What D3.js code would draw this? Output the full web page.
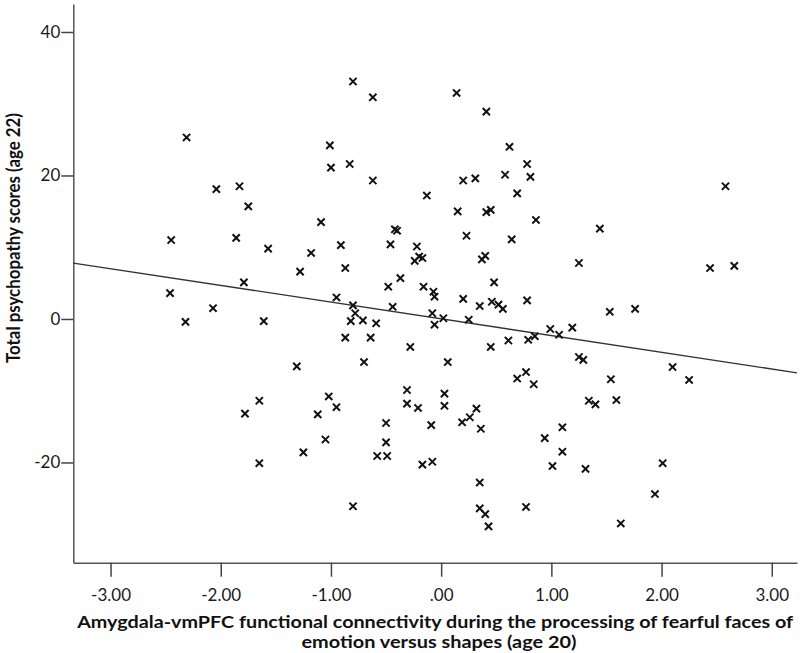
<!DOCTYPE html>
<html>
<head>
<meta charset="utf-8">
<script src="https://cdn.jsdelivr.net/npm/d3@7"></script>
<style>
body { margin: 0; background: #fff; }
</style>
</head>
<body>
<div id="container"></div>
<script>
"use strict";

// amygdala-vmPFC connectivity (age 20), one value per participant
var connectivity = [
    -2.31, -2.04, -1.83, -1.75, -2.45, -1.86, -1.57, -1.18, -1.28, -1.79,
    -2.46, -0.80, -0.62, 0.14, 0.41, -1.01, -1.00, -0.83, -0.62, 0.62,
    0.78, 0.20, 0.31, 0.58, 0.81, 0.69, -0.13, 0.15, 0.41, 0.45,
    0.86, -1.09, -0.42, -0.40, -0.91, -0.46, -0.22, -0.24, -0.20, -0.17,
    0.23, 0.64, 0.37, 0.40, -0.87, -0.37, -0.48, -0.16, -0.07, -0.06,
    0.48, 2.58, 1.44, 1.25, 2.44, 2.66, -2.32, -2.07, -1.61, -1.31,
    -1.65, -1.78, -1.25, -1.65, -0.95, -0.80, -0.78, -0.82, -0.71, -0.59,
    -0.44, -0.87, -0.64, -0.70, -0.28, -0.08, 0.02, -0.06, 0.20, 0.35,
    0.46, 0.52, 0.56, 0.78, 0.25, 0.06, 0.45, 0.61, 0.79, 0.85,
    0.69, 0.77, 0.84, -1.02, -0.95, -1.12, -1.05, -0.31, -0.31, -0.21,
    -0.50, -0.50, -0.58, -0.49, 0.03, 0.03, -0.09, -0.17, -0.08, 0.19,
    0.26, 0.32, 0.36, 0.35, 0.35, 0.40, 0.43, 0.77, -0.80, 0.94,
    0.99, 1.07, 1.19, 1.53, 1.76, 1.25, 1.29, 1.54, 1.34, 1.40,
    1.59, 2.10, 2.25, 1.10, 1.10, 1.01, 1.31, 2.01, 1.94, 1.63
];

// total psychopathy score (age 22), same order
var psychopathy = [
    25.3, 18.1, 18.5, 15.7, 11.0, 11.3, 9.8, 9.2, 6.6, 5.1,
    3.6, 33.1, 30.9, 31.5, 28.9, 24.2, 21.1, 21.6, 19.3, 24.0,
    21.6, 19.3, 19.6, 20.1, 19.8, 17.5, 17.2, 15.0, 14.9, 15.2,
    13.8, 13.5, 12.5, 12.3, 10.3, 10.4, 10.1, 8.1, 8.7, 8.5,
    11.6, 11.1, 8.3, 8.8, 7.1, 5.7, 4.5, 4.5, 3.8, 3.1,
    5.1, 18.5, 12.6, 7.8, 7.1, 7.4, -0.4, 1.5, -0.3, -6.6,
    -11.4, -13.2, -18.6, -20.1, 3.0, 1.9, 0.8, -0.3, -0.2, -0.6,
    1.7, -2.6, -2.6, -6.0, -3.9, 0.8, 0.1, -0.8, 2.8, 1.8,
    2.4, 2.0, 1.4, 2.6, -0.1, -6.0, -3.9, -3.0, -2.9, -2.4,
    -8.3, -7.4, -9.1, -10.8, -12.3, -13.3, -16.8, -9.9, -11.8, -12.4,
    -14.5, -17.2, -19.1, -19.1, -10.4, -12.1, -14.8, -20.3, -19.9, -14.4,
    -13.7, -12.5, -15.3, -22.8, -26.4, -27.2, -28.9, -26.2, -26.1, -16.6,
    -1.4, -2.2, -1.2, 1.0, 1.4, -5.3, -5.7, -8.4, -11.4, -11.9,
    -11.3, -6.7, -8.5, -15.1, -18.5, -20.5, -20.9, -20.1, -24.4, -28.5
];

var xTicks = [-3, -2, -1, 0, 1, 2, 3];
var yTicks = [-20, 0, 20, 40];
var xDomain = [-3.338, 3.229];
var yDomain = [-33.97, 43.9];

// linear fit line
var fitIntercept = 0.02;
var fitSlope = -2.33;

var xTitle = [
    "Amygdala-vmPFC functional connectivity during the processing of fearful faces of",
    "emotion versus shapes (age 20)"
];
var yTitle = "Total psychopathy scores (age 22)";

(function () {
    var width = 800;
    var height = 653;
    var plotLeft = 73.3, plotRight = 797, plotTop = 4, plotBottom = 562.7;
    var font = "Lato, 'Open Sans', sans-serif";

    var svg = d3.select("#container").append("svg")
        .attr("width", width).attr("height", height)
        .style("display", "block");

    var x = d3.scaleLinear().domain(xDomain).range([plotLeft, plotRight]);
    var y = d3.scaleLinear().domain(yDomain).range([plotBottom, plotTop]);

    // SPSS style: plain hyphen, no leading zero
    function fmtX(v) {
        return v === 0 ? ".00" : v.toFixed(2);
    }
    function fmtY(v) {
        return String(v);
    }

    var xAxis = svg.append("g")
        .attr("transform", "translate(0," + plotBottom + ")")
        .call(d3.axisBottom(x).tickValues(xTicks).tickFormat(fmtX)
            .tickSizeInner(14).tickSizeOuter(0).tickPadding(12));

    var yAxis = svg.append("g")
        .attr("transform", "translate(" + plotLeft + ",0)")
        .call(d3.axisLeft(y).tickValues(yTicks).tickFormat(fmtY)
            .tickSizeInner(12).tickSizeOuter(0).tickPadding(1));

    [xAxis, yAxis].forEach(function (g) {
        g.select(".domain").attr("stroke", "#555").attr("stroke-width", 1.5);
        g.selectAll(".tick line").attr("stroke", "#444").attr("stroke-width", 1.5);
        g.selectAll(".tick text")
            .attr("fill", "#1a1a1a")
            .style("font-family", font)
            .style("font-size", "17px");
    });

    // fit line
    var xs = x.domain();
    svg.append("line")
        .attr("x1", x(xs[0])).attr("y1", y(fitIntercept + fitSlope * xs[0]))
        .attr("x2", x(xs[1])).attr("y2", y(fitIntercept + fitSlope * xs[1]))
        .attr("stroke", "#333").attr("stroke-width", 1.3);

    // points as crosses
    var pts = connectivity.map(function (v, i) {
        return { x: v, y: psychopathy[i] };
    });
    var s = 3.6;
    svg.append("g").selectAll("path.pt").data(pts).enter().append("path")
        .attr("class", "pt")
        .attr("d", function (d) {
            var cx = x(d.x), cy = y(d.y);
            return "M" + [cx - s, cy - s] + "L" + [cx + s, cy + s] +
                "M" + [cx - s, cy + s] + "L" + [cx + s, cy - s];
        })
        .attr("stroke", "#111").attr("stroke-width", 2).attr("fill", "none");

    // titles
    var midX = (plotLeft + plotRight) / 2;
    svg.append("text")
        .attr("x", midX).attr("y", 628)
        .attr("text-anchor", "middle")
        .attr("textLength", 716).attr("lengthAdjust", "spacingAndGlyphs")
        .style("font-family", font).style("font-weight", "bold").style("font-size", "17px")
        .attr("fill", "#111")
        .text(xTitle[0]);
    svg.append("text")
        .attr("x", 439).attr("y", 648)
        .attr("text-anchor", "middle")
        .attr("textLength", 275).attr("lengthAdjust", "spacingAndGlyphs")
        .style("font-family", font).style("font-weight", "bold").style("font-size", "17px")
        .attr("fill", "#111")
        .text(xTitle[1]);

    svg.append("text")
        .attr("transform", "translate(20,238) rotate(-90)")
        .attr("text-anchor", "middle")
        .attr("textLength", 250).attr("lengthAdjust", "spacingAndGlyphs")
        .style("font-family", font).style("font-weight", "bold").style("font-size", "18px")
        .attr("fill", "#111")
        .text(yTitle);
})();
</script>
</body>
</html>
